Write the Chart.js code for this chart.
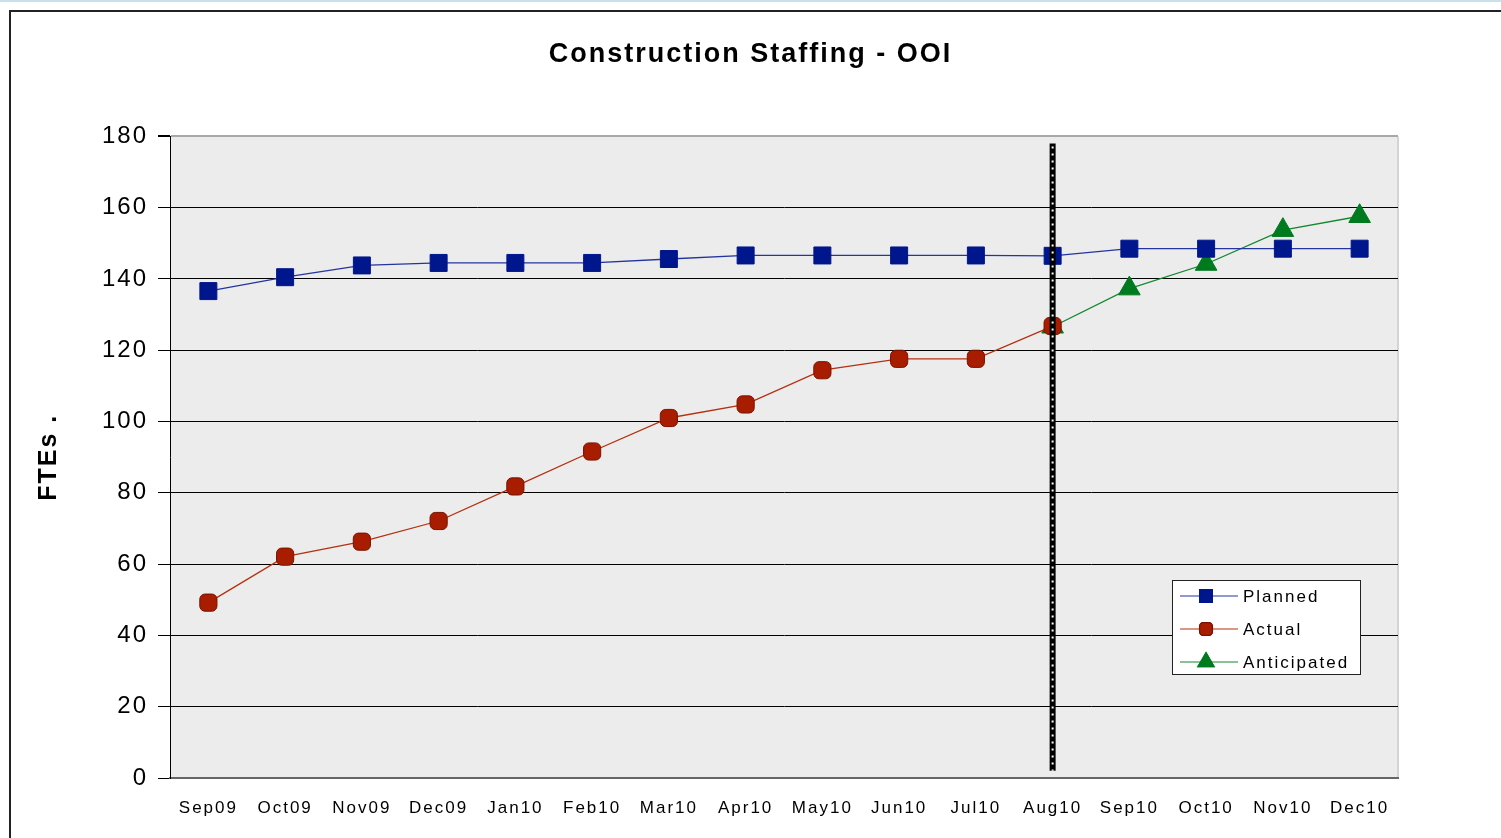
<!DOCTYPE html>
<html>
<head>
<meta charset="utf-8">
<script src="https://cdn.jsdelivr.net/npm/chart.js@4.4.0/dist/chart.umd.min.js"></script>
<style>
  html, body { margin: 0; padding: 0; background: #fff; overflow: hidden; }
  #topline { position: absolute; left: 0; top: 0; width: 1501px; height: 2px; background: #c9e1ea; }
  #frame { position: absolute; left: 9px; top: 10px; width: 1600px; height: 900px; border: 2px solid #222; }
  #wrap { position: absolute; left: 0; top: 0; width: 1501px; height: 838px; }
</style>
</head>
<body>
<div id="topline"></div>
<div id="frame"></div>
<div id="wrap"><canvas id="staffChart" width="1501" height="838"></canvas></div>
<script>
  // Chart data
  const months = ["Sep09", "Oct09", "Nov09", "Dec09", "Jan10", "Feb10", "Mar10", "Apr10",
                  "May10", "Jun10", "Jul10", "Aug10", "Sep10", "Oct10", "Nov10", "Dec10"];
  const planned = [136.6, 140.5, 143.8, 144.5, 144.5, 144.5, 145.6, 146.6,
                   146.6, 146.6, 146.6, 146.5, 148.5, 148.5, 148.5, 148.5];
  const actual = [49.2, 62.1, 66.3, 72.1, 81.8, 91.6, 101, 104.8,
                  114.4, 117.6, 117.6, 126.8, null, null, null, null];
  const anticipated = [null, null, null, null, null, null, null, null,
                       null, null, null, 126.6, 137.3, 144.2, 153.7, 157.6];
  const cutoffMonth = "Aug10";
  const cutoffRange = [2, 178];

  const blue = "#00168c";
  const red = "#a81c00";
  const green = "#007a1e";

  // Canvas letter spacing (the original labels are spaced out)
  const spacingPlugin = {
    id: "spacing",
    beforeLayout(chart) { chart.ctx.letterSpacing = "2px"; },
    beforeDraw(chart) { chart.ctx.letterSpacing = "2px"; }
  };

  // Grey plot background
  const plotBg = {
    id: "plotBg",
    beforeDraw(chart) {
      const { ctx, chartArea: a } = chart;
      ctx.save();
      ctx.fillStyle = "#ececec";
      ctx.fillRect(a.left, a.top, a.right - a.left, a.bottom - a.top);
      ctx.strokeStyle = "#d4d4d4";
      ctx.lineWidth = 2;
      ctx.beginPath();
      ctx.moveTo(a.right, a.top);
      ctx.lineTo(a.right, a.bottom);
      ctx.stroke();
      ctx.restore();
    }
  };

  // Vertical dashed "today" line at Aug10
  const cutoffLine = {
    id: "cutoffLine",
    afterDatasetsDraw(chart) {
      const { ctx, scales } = chart;
      const x = scales.x.getPixelForValue(months.indexOf(cutoffMonth));
      const y1 = scales.y.getPixelForValue(cutoffRange[1]);
      const y2 = scales.y.getPixelForValue(cutoffRange[0]);
      ctx.save();
      ctx.strokeStyle = "#000";
      ctx.lineWidth = 6;
      ctx.beginPath();
      ctx.moveTo(x, y1);
      ctx.lineTo(x, y2);
      ctx.stroke();
      ctx.strokeStyle = "#fff";
      ctx.lineWidth = 2;
      ctx.setLineDash([2, 5]);
      ctx.beginPath();
      ctx.moveTo(x, y1 + 3);
      ctx.lineTo(x, y2);
      ctx.stroke();
      ctx.restore();
    }
  };

  // Legend box inside the plot
  const boxLegend = {
    id: "boxLegend",
    afterDraw(chart) {
      const { ctx, chartArea: a } = chart;
      const left = a.right - 226, top = a.bottom - 198;
      ctx.save();
      ctx.fillStyle = "#fff";
      ctx.fillRect(left, top, 188, 94);
      ctx.strokeStyle = "#222";
      ctx.lineWidth = 1;
      ctx.strokeRect(left + 0.5, top + 0.5, 188, 94);
      ctx.font = "17px 'Liberation Sans', Arial, sans-serif";
      ctx.textBaseline = "middle";
      ctx.fillStyle = "#000";
      chart.data.datasets.forEach((ds, i) => {
        const y = top + 16 + i * 33;
        ctx.strokeStyle = ds.borderColor;
        ctx.lineWidth = 1.2;
        ctx.beginPath();
        ctx.moveTo(left + 8, y);
        ctx.lineTo(left + 66, y);
        ctx.stroke();
        Chart.helpers.drawPoint(ctx, {
          pointStyle: ds.pointStyle,
          radius: ds.pointRadius * 0.75,
          rotation: 0,
          borderWidth: 1
        }, left + 34, y);
        ctx.fillStyle = ds.pointBackgroundColor;
        ctx.strokeStyle = ds.pointBorderColor;
        ctx.fill();
        ctx.stroke();
        ctx.fillStyle = "#000";
        ctx.fillText(ds.label, left + 71, y + 1);
      });
      ctx.restore();
    }
  };

  new Chart(document.getElementById("staffChart").getContext("2d"), {
    type: "line",
    data: {
      labels: months,
      datasets: [
        {
          label: "Planned",
          data: planned,
          borderColor: "#2435a0",
          borderWidth: 1.3,
          pointStyle: "rect",
          pointRadius: 12,
          pointBackgroundColor: blue,
          pointBorderColor: blue,
          pointBorderWidth: 1
        },
        {
          label: "Actual",
          data: actual,
          borderColor: "#b5300f",
          borderWidth: 1.3,
          pointStyle: "rectRounded",
          pointRadius: 10,
          pointBackgroundColor: red,
          pointBorderColor: "#7a1200",
          pointBorderWidth: 1
        },
        {
          label: "Anticipated",
          data: anticipated,
          borderColor: "#13882e",
          borderWidth: 1.3,
          pointStyle: "triangle",
          pointRadius: 12.5,
          pointBackgroundColor: green,
          pointBorderColor: green,
          pointBorderWidth: 1
        }
      ]
    },
    options: {
      responsive: false,
      animation: false,
      spanGaps: false,
      layout: { padding: { left: 0, right: 0, top: 0, bottom: 0 } },
      plugins: {
        legend: { display: false },
        tooltip: { enabled: false },
        title: {
          display: true,
          text: "Construction Staffing - OOI",
          color: "#000",
          font: { family: "'Liberation Sans', Arial, sans-serif", size: 27, weight: "bold" },
          padding: { top: 38, bottom: 66 }
        }
      },
      scales: {
        x: {
          offset: true,
          afterFit(scale) { scale.height = 60; },
          grid: { display: false, drawTicks: false },
          border: { color: "#666", width: 2 },
          ticks: {
            color: "#000",
            padding: 20,
            maxRotation: 0,
            autoSkip: false,
            font: { family: "'Liberation Sans', Arial, sans-serif", size: 17 }
          }
        },
        y: {
          min: 0,
          max: 180,
          afterFit(scale) { scale.width = 170; },
          border: { color: "#000", width: 1 },
          grid: {
            color: (c) => (c.tick && c.tick.value === 180 ? "#a8a8a8" : "#000"),
            lineWidth: (c) => (c.tick && c.tick.value === 180 ? 2 : 1),
            tickColor: "#000",
            tickLength: 12
          },
          ticks: {
            stepSize: 20,
            color: "#000",
            padding: 10,
            font: { family: "'Liberation Sans', Arial, sans-serif", size: 24 }
          },
          title: {
            display: true,
            text: "FTEs .",
            color: "#000",
            font: { family: "'Liberation Sans', Arial, sans-serif", size: 25, weight: "bold" },
            padding: { top: 34, bottom: 0 }
          }
        },
        // empty right-hand margin so the title centres on the whole page
        yRight: {
          position: "right",
          afterFit(scale) { scale.width = 103; },
          grid: { display: false, drawTicks: false },
          border: { display: false },
          ticks: { display: false }
        }
      }
    },
    plugins: [spacingPlugin, plotBg, cutoffLine, boxLegend]
  });
</script>
</body>
</html>
